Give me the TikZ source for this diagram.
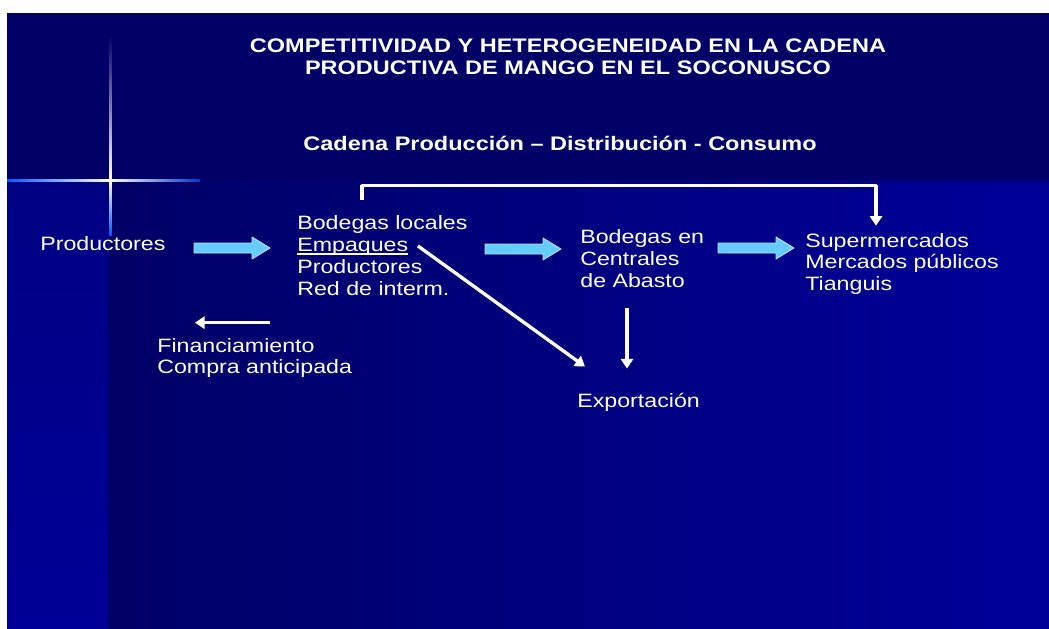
\documentclass[tikz,border=0pt]{standalone}
\usepackage{fontspec}
\setmainfont{Liberation Sans}[FakeStretch=1.2]
\usetikzlibrary{arrows.meta,calc}
\definecolor{navy}{RGB}{0,0,102}
\definecolor{deepblue}{RGB}{0,0,153}
\definecolor{stripblue}{RGB}{0,0,150}
\definecolor{skyarrow}{RGB}{102,204,255}
\definecolor{flare}{RGB}{0,90,255}
\newcommand{\undl}[1]{{\setbox0\hbox{#1}\rlap{\rule[-1.8pt]{\wd0}{1pt}}\box0}}
\begin{document}
\begin{tikzpicture}[x=0.02cm,y=-0.02cm,line join=round,>={Triangle[length=5.5pt,width=7pt]}]
		\tikzset{txt/.style={text=white,inner sep=0pt,align=left,anchor=west,font=\fontsize{11}{12.5}\selectfont},
			head/.style={text=white,inner sep=0pt,align=center,font=\fontsize{11.15}{12.5}\selectfont\bfseries},
			wline/.style={white,line width=1.9pt},
			fatarrow/.style={fill=skyarrow,draw=white!50!skyarrow,line width=0.5pt}}
		\useasboundingbox (0,0) rectangle (1049,629);
		% background
		\fill[white] (0,0) rectangle (1049,629);
		\fill[navy] (7,13) rectangle (1049,181);
		\shade[left color=navy,right color=deepblue] (108,181) rectangle (1049,629);
		\shade[top color=navy!40!stripblue,bottom color=stripblue] (7,181) rectangle (108,629);
		% flare
		\shade[top color=navy,bottom color=white] (109,35) rectangle (111.5,180);
		\shade[top color=white,bottom color=flare] (109,180) rectangle (111.5,235);
		\shade[left color=flare,right color=white] (7,179) rectangle (110,181.5);
		\shade[left color=white,right color=flare!60!navy] (110,179) rectangle (200,181.5);
		% titles
		\node[head] (title) at (568,57) {COMPETITIVIDAD Y HETEROGENEIDAD EN LA CADENA\\PRODUCTIVA DE MANGO EN EL SOCONUSCO};
		\node[head] (sub) at (560,143) {Cadena Producción – Distribución - Consumo};
		% chain
		\node[txt] (prod) at (40,244) {Productores};
		\node[txt] (bod) at (297,256) {Bodegas locales\\\undl{Empaques}\\Productores\\Red de interm.};
		\node[txt] (cen) at (580,259) {Bodegas en\\Centrales\\de Abasto};
		\node[txt] (sup) at (805,264) {Supermercados\\Mercados públicos\\Tianguis};
		\node[txt] (fin) at (157,358) {Financiamiento\\Compra anticipada};
		\node[txt] (exp) at (577,402) {Exportación};
		\foreach \x/\y in {194/248,485/249,718/248}
		\draw[fatarrow] (\x,\y-5) -- ++(58,0) -- ++(0,-6) -- ++(18,11) -- ++(-18,11) -- ++(0,-6) -- ++(-58,0) -- cycle;
		\draw[wline,->] ($(bod.north west)+(65,-16)$) |- ($(sup.north west)+(71,-47)$) -- ($(sup.north west)+(71,-7)$);
		\draw[wline,->] ($(bod.west)+(121,-10)$) -- ($(exp.north west)+(8,-26)$);
		\draw[wline,->] ($(cen.south west)+(47,20)$) -- ($(exp.north west)+(50,-24)$);
		\draw[wline,->] ($(fin.north west)+(113,-15)$) -- ($(fin.north west)+(38,-15)$);
		\end{tikzpicture}
\end{document}
